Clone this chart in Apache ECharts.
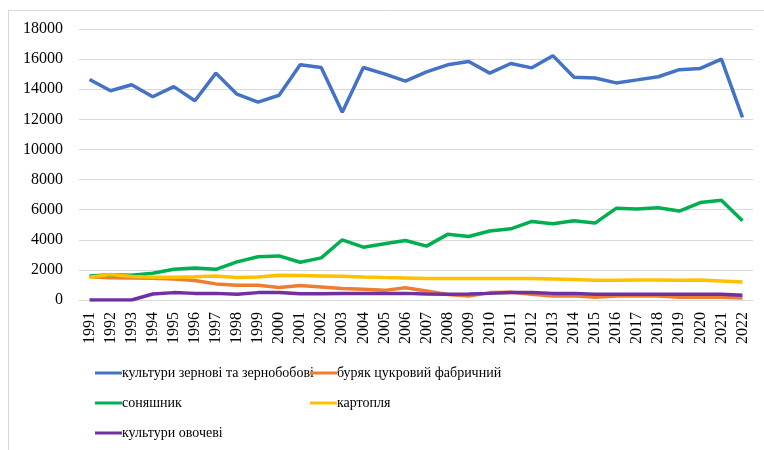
<!DOCTYPE html>
<html>
<head>
<meta charset="utf-8">
<script src="https://cdn.jsdelivr.net/npm/echarts@6/dist/echarts.min.js"></script>
<style>html,body{margin:0;padding:0;background:#fff}#c{width:764px;height:450px}</style>
</head>
<body>
<div id="c"></div>
<script>
const years = ['1991','1992','1993','1994','1995','1996','1997','1998','1999','2000','2001','2002','2003','2004','2005','2006','2007','2008','2009','2010','2011','2012','2013','2014','2015','2016','2017','2018','2019','2020','2021','2022'];
const grain = [14650,13900,14300,13500,14170,13230,15070,13670,13140,13600,15620,15440,12470,15440,15020,14540,15150,15620,15840,15070,15710,15420,16230,14800,14750,14420,14620,14830,15300,15380,16000,12130];
const sugarBeet = [1550,1480,1460,1440,1400,1290,1070,980,980,830,960,870,760,710,640,810,600,360,270,490,510,380,270,290,180,270,270,270,180,180,180,130];
const sunflower = [1600,1670,1650,1780,2040,2130,2040,2530,2870,2930,2510,2800,4000,3510,3730,3950,3580,4360,4220,4580,4730,5220,5070,5270,5110,6090,6040,6130,5910,6470,6620,5270];
const potato = [1510,1690,1560,1510,1510,1550,1600,1490,1530,1640,1620,1600,1580,1530,1490,1460,1420,1420,1420,1420,1420,1420,1400,1360,1310,1310,1330,1330,1310,1330,1270,1200];
const vegetables = [0,0,0,400,490,440,440,380,490,490,420,420,430,440,440,440,400,380,400,440,490,490,440,440,380,390,390,390,390,390,380,310];
const names = ['культури зернові та зернобобові','буряк цукровий фабричний','соняшник','картопля','культури овочеві'];
const colors = ['#4472C4','#ED7D31','#00B050','#FFC000','#7030A0'];
const seriesData = [grain, sugarBeet, sunflower, potato, vegetables];

const font = 'Liberation Serif, Times New Roman, serif';
const legendPos = [[95,366],[310,366],[95,396],[310,396],[95,426]];
const chart = echarts.init(document.getElementById('c'));
chart.setOption({
  animation: false,
  backgroundColor: '#fff',
  color: colors,
  grid: {left: 79, right: 11, top: 29, bottom: 150, containLabel: false},
  graphic: [
    {type:'line', shape:{x1:8.5,y1:10.5,x2:764,y2:10.5}, style:{stroke:'#D9D9D9', lineWidth:1}},
    {type:'line', shape:{x1:8.5,y1:10.5,x2:8.5,y2:450}, style:{stroke:'#D9D9D9', lineWidth:1}}
  ],
  legend: names.map((n,i)=>({
    data:[n], left: legendPos[i][0], top: legendPos[i][1], padding:0,
    itemWidth: 27, itemHeight: 16, icon: 'path://M0,6.5 L27,6.5 L27,9.5 L0,9.5 Z',
    textStyle:{fontFamily: font, fontSize: 14, color:'#000', padding:[0,0,0,-5]}
  })),
  xAxis: {
    type:'category', data: years, boundaryGap: true,
    axisLine:{lineStyle:{color:'#D9D9D9', width:1}},
    axisTick:{show:false},
    axisLabel:{rotate:90, interval:0, margin:12, fontFamily: font, fontSize:16, color:'#000'}
  },
  yAxis: {
    type:'value', min:0, max:18000, interval:2000,
    axisLine:{show:false}, axisTick:{show:false},
    splitLine:{lineStyle:{color:'#D9D9D9', width:1}},
    axisLabel:{margin:16, fontFamily: font, fontSize:16, color:'#000', formatter: v => String(v)}
  },
  series: names.map((n,i)=>({
    name:n, type:'line', data: seriesData[i], symbol:'none',
    lineStyle:{width:3.5, color: colors[i]}, itemStyle:{color: colors[i]}
  }))
});
</script>
</body>
</html>
